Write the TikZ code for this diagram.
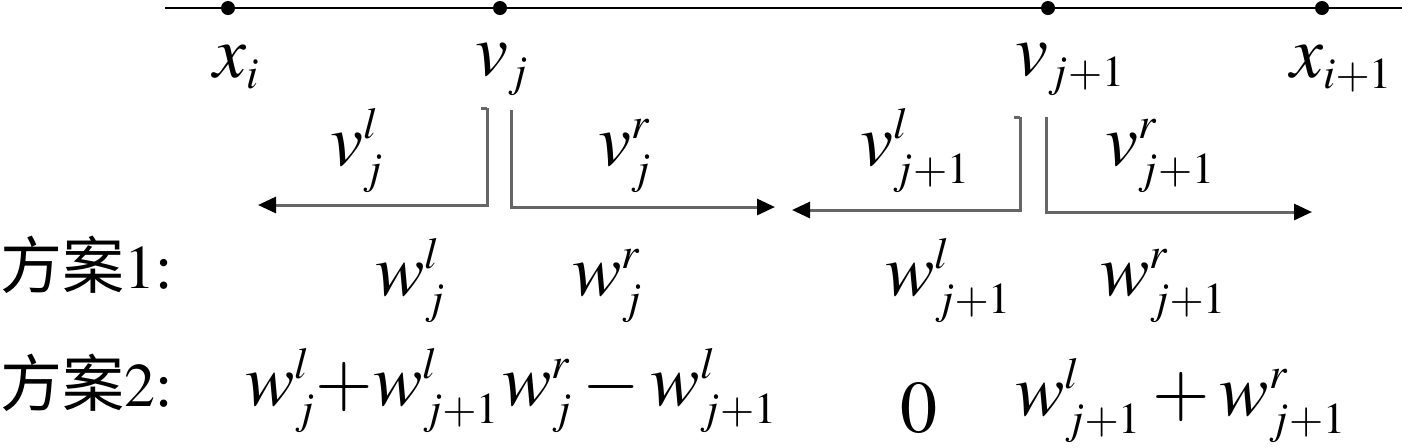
\documentclass[tikz,border=0pt]{standalone}
\usepackage{mathptmx}
\usepackage{fontspec}
\setmainfont{Liberation Serif}
\newfontfamily\cjk{Noto Sans CJK SC}
\DeclareMathSizes{37}{37}{22}{16}
\usetikzlibrary{arrows.meta}

\begin{document}
\begin{tikzpicture}[x=0.5pt,y=-0.5pt,
    pt/.style={circle,fill,inner sep=0pt,minimum size=7pt},
    lab/.style={anchor=base west,inner sep=0pt,font=\fontsize{37}{44}\selectfont},
    scheme/.style={anchor=base west,inner sep=0pt,font=\fontsize{31}{36}\selectfont},
    brk/.style={draw=black!60,line width=1.5pt},
    arr/.style={brk,-{Triangle[length=9pt,width=8pt,color=black]}}]
    \useasboundingbox (0,0) rectangle (1402,447);
    % the axis and its points
    \coordinate (l0) at (165,8);
    \coordinate (l1) at (1402,8);
    \draw[line width=1pt] (l0) -- (l1);
    \node[pt] (xi) at (228,8) {};
    \node[pt] (vj) at (500,8) {};
    \node[pt] (vk) at (1048,8) {};
    \node[pt] (xk) at (1322,8) {};
    \node[lab] (lxi) at (213,77) {$x_i$};
    \node[lab] (lvj) at (475,75) {$v_j$};
    \node[lab] (lvk) at (1015,75) {$v_{j+1}$};
    \node[lab] (lxk) at (1290,77) {$x_{i+1}$};
    % brackets with arrows
    \coordinate (a1) at (487,108);  \coordinate (e1) at (258,205);
    \coordinate (a2) at (511,110);  \coordinate (e2) at (775,207);
    \coordinate (a3) at (1020,117); \coordinate (e3) at (792,210);
    \coordinate (a4) at (1046,117); \coordinate (e4) at (1312,212);
    \draw[brk] (a1) -- ++(-6,0);
    \draw[brk] (a3) -- ++(-6,0);
    \draw[arr] (a1) |- (e1);
    \draw[arr] (a2) |- (e2);
    \draw[arr] (a3) |- (e3);
    \draw[arr] (a4) |- (e4);
    \node[lab] (vjl) at (330,165) {$v_j^l$};
    \node[lab] (vjr) at (598,165) {$v_j^r$};
    \node[lab] (vkl) at (860,165) {$v_{j+1}^l$};
    \node[lab] (vkr) at (1105,165) {$v_{j+1}^r$};
    % the two schemes
    \node[scheme] (s1) at (0,288) {{\cjk 方案}$1$:};
    \node[lab] (wjl) at (375,295) {$w_j^l$};
    \node[lab] (wjr) at (572,295) {$w_j^r$};
    \node[lab] (wkl) at (885,295) {$w_{j+1}^l$};
    \node[lab] (wkr) at (1100,295) {$w_{j+1}^r$};
    \node[scheme] (s2) at (0,406) {{\cjk 方案}$2$:};
    \node[lab] (t1) at (245,405) {$w_j^l{+}w_{j+1}^l$};
    \node[lab] (t2) at (502,405) {$w_j^r-w_{j+1}^l$};
    \node[lab] (t3) at (900,432) {$0$};
    \node[lab] (t4) at (1015,415) {$w_{j+1}^l+w_{j+1}^r$};
\end{tikzpicture}
\end{document}
